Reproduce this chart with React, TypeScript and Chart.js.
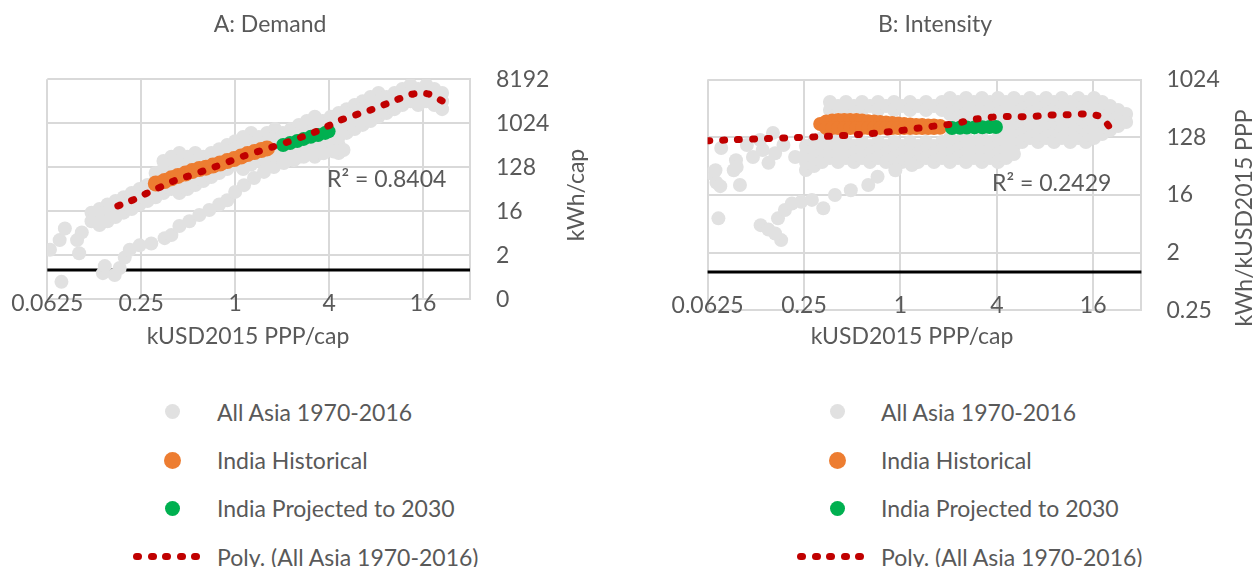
import React, { useEffect, useRef } from "react";
import { Chart, registerables } from "chart.js";

Chart.register(...registerables);

const FONT_FAMILY = "Lato, 'Open Sans', sans-serif";
const FONT_SIZE = 23;
const TEXT_COLOR = "#595959";
const GRID_COLOR = "#d9d9d9";
const GRAY = "#e1e1e1";
const ORANGE = "#ED7D31";
const GREEN = "#00B050";
const RED = "#C00000";

// ---------- axes ----------
const gdpTicks = [0.0625, 0.25, 1, 4, 16];
const gdpTickLabels = ["0.0625", "0.25", "1", "4", "16"];
const gdpMin = 0.0625;
const gdpMax = 32;
const demandTicks = [0.25, 2, 16, 128, 1024, 8192];
const demandTickLabels = ["0", "2", "16", "128", "1024", "8192"];
const intensityTicks = [0.25, 2, 16, 128, 1024];
const intensityTickLabels = ["0.25", "2", "16", "128", "1024"];
const axisCrossValue = 1;

const legendLabels = [
  "All Asia 1970-2016",
  "India Historical",
  "India Projected to 2030",
  "Poly. (All Asia 1970-2016)",
];

// ---------- A: Demand (kUSD2015 PPP/cap -> kWh/cap) ----------
// All Asia: main band, listed as GDP value with the demand values observed at it
const asiaDemandBand: [number, number[]][] = [
  [0.12, [15, 10]],
  [0.135, [17.9, 12.2, 8.4]],
  [0.152, [22, 15, 10]],
  [0.171, [26, 17.9, 12.2]],
  [0.193, [31, 22, 15]],
  [0.217, [38, 26, 17.9]],
  [0.244, [46, 31, 22]],
  [0.274, [55.5, 38, 26]],
  [0.309, [98, 67, 46, 31]],
  [0.347, [173, 118, 81, 55.5, 38]],
  [0.39, [210, 145, 98, 67, 46]],
  [0.439, [252, 173, 118, 81, 55.5, 38]],
  [0.494, [210, 145, 98, 67, 46]],
  [0.555, [252, 173, 118, 81, 55.5]],
  [0.625, [210, 145, 98, 67]],
  [0.703, [252, 173, 118, 81]],
  [0.79, [300, 210, 145, 98]],
  [0.889, [368, 252, 173, 118]],
  [1.0, [440, 300, 210, 145]],
  [1.125, [537, 368, 252, 173, 118]],
  [1.265, [650, 440, 300, 210, 145]],
  [1.42, [537, 368, 252, 173]],
  [1.6, [650, 440, 300, 210, 145]],
  [1.8, [783, 537, 368, 252, 173]],
  [2.02, [650, 440, 300, 210]],
  [2.28, [783, 537, 368, 252]],
  [2.56, [950, 650, 440, 300, 210]],
  [2.88, [1140, 783, 537, 368, 252]],
  [3.24, [1400, 950, 650, 440, 300, 210]],
  [3.64, [1140, 783, 537, 368, 252]],
  [4.1, [1400, 950, 650, 440, 300]],
  [4.61, [1670, 1140, 783, 537, 368, 252]],
  [5.18, [2000, 1400, 950, 650]],
  [5.83, [2430, 1670, 1140, 783]],
  [6.56, [2900, 2000, 1400, 950]],
  [7.37, [3550, 2430, 1670, 1140]],
  [8.29, [4300, 2900, 2000, 1400]],
  [9.33, [3550, 2430, 1670]],
  [10.5, [4300, 2900, 2000]],
  [11.8, [5180, 3550, 2430]],
  [13.3, [6300, 4300, 2900]],
  [14.9, [5180, 3550, 2430]],
  [16.8, [6300, 4300, 2900]],
  [18.9, [5180, 3550, 2430]],
  [21.2, [4300, 2900, 2000]],
];

// All Asia: scattered low-income points and the lower branch
const asiaDemandScatter: [number, number][] = [
  [0.065, 2.6], [0.075, 4.1], [0.081, 7.1], [0.097, 4.1], [0.1, 2.2], [0.104, 5.9], [0.135, 9.6],
  [0.077, 0.57], [0.142, 0.86], [0.146, 1.2], [0.169, 0.79], [0.182, 1.1], [0.196, 1.8], [0.211, 2.6],
  [0.244, 3.2], [0.29, 3.5], [0.353, 4.5], [0.39, 5.2],
  [0.439, 8.0], [0.509, 10], [0.589, 13.4], [0.682, 17], [0.79, 22], [0.89, 27], [1.0, 40], [1.14, 55],
  [1.32, 77], [1.53, 103], [1.77, 130], [2.05, 156], [2.38, 181], [2.75, 210], [3.19, 229], [3.69, 250],
  [4.28, 270], [4.95, 290],
];

const indiaHistDemand: [number, number][] = [
  [0.31, 59.5], [0.353, 67], [0.39, 76], [0.43, 85], [0.48, 95], [0.53, 107], [0.589, 118], [0.65, 126],
  [0.72, 139], [0.8, 153], [0.89, 172], [0.985, 189], [1.09, 212], [1.2, 239], [1.33, 263], [1.47, 290],
  [1.6, 312],
];

const indiaProjDemand: [number, number][] = [
  [2.03, 367], [2.25, 405], [2.5, 445], [2.75, 490], [3.05, 540], [3.4, 590], [3.78, 650], [3.97, 700],
];

const polyDemand: [number, number][] = [
  [0.177, 20.6], [0.221, 27.3], [0.271, 37.5], [0.336, 51.2], [0.418, 70.2], [0.529, 89], [0.666, 116],
  [0.826, 148], [1.034, 196], [1.284, 248], [1.63, 314], [2.05, 398], [2.53, 504], [3.15, 650],
  [3.94, 900], [4.89, 1237], [5.89, 1518], [7.18, 1860], [8.93, 2435], [11.05, 3186], [13.9, 4096],
  [17.3, 4096], [21.3, 2937],
];

// ---------- B: Intensity (kUSD2015 PPP/cap -> kWh/kUSD2015 PPP) ----------
const asiaIntensityBand: [number, number[]][] = [
  [0.257, [93.5, 70, 52.5, 39.4]],
  [0.289, [108, 81, 60.7, 45.5]],
  [0.324, [125, 93.5, 70, 52.5]],
  [0.363, [457, 342, 108, 81, 60.7]],
  [0.408, [395, 125, 93.5, 70, 52.5]],
  [0.457, [457, 342, 108, 81, 60.7]],
  [0.513, [395, 93.5, 70, 52.5]],
  [0.576, [457, 342, 108, 81, 60.7]],
  [0.646, [395, 93.5, 70, 52.5]],
  [0.725, [457, 342, 108, 81, 60.7]],
  [0.813, [395, 93.5, 70, 52.5]],
  [0.912, [457, 342, 108, 81, 60.7]],
  [1.023, [395, 93.5, 70, 52.5]],
  [1.148, [457, 342, 108, 81, 60.7]],
  [1.288, [395, 93.5, 70, 52.5]],
  [1.445, [457, 342, 108, 81, 60.7]],
  [1.621, [395, 93.5, 70, 52.5]],
  [1.819, [457, 342, 108, 81, 60.7]],
  [2.04, [528, 395, 296, 125, 93.5, 70, 52.5]],
  [2.29, [457, 342, 257, 108, 81, 60.7]],
  [2.57, [528, 395, 296, 125, 93.5, 70, 52.5]],
  [2.88, [457, 342, 257, 108, 81, 60.7]],
  [3.23, [528, 395, 296, 125, 93.5, 70, 52.5]],
  [3.63, [457, 342, 257, 108, 81, 60.7]],
  [4.07, [528, 395, 296, 125, 93.5, 70, 52.5]],
  [4.57, [457, 342, 257, 192, 144, 108, 81, 60.7]],
  [5.12, [528, 395, 296, 222, 166, 125, 93.5, 70]],
  [5.75, [457, 342, 257, 192, 144, 108]],
  [6.45, [528, 395, 296, 222, 166, 125]],
  [7.24, [457, 342, 257, 192, 144, 108]],
  [8.12, [528, 395, 296, 222, 166, 125]],
  [9.11, [457, 342, 257, 192, 144, 108]],
  [10.2, [528, 395, 296, 222, 166, 125]],
  [11.5, [457, 342, 257, 192, 144, 108]],
  [12.9, [528, 395, 296, 222, 166, 125]],
  [14.4, [457, 342, 257, 192, 144, 108]],
  [16.2, [528, 395, 296, 222, 166, 125]],
  [18.2, [457, 342, 257, 192, 144]],
  [20.4, [395, 296, 222, 166]],
  [22.9, [342, 257, 192]],
  [25.7, [296, 222]],
];

const asiaIntensityScatter: [number, number][] = [
  [0.076, 87], [0.066, 35], [0.071, 25], [0.094, 56], [0.091, 39], [0.0995, 23], [0.12, 63], [0.138, 81],
  [0.15, 51], [0.165, 72], [0.22, 63], [0.16, 150], [0.186, 97], [0.133, 116], [0.11, 97], [0.07, 39],
  [0.095, 44], [0.075, 22],
  [0.073, 6.9], [0.134, 5.4], [0.15, 4.6], [0.172, 6.9], [0.18, 3.15], [0.19, 9.3], [0.21, 11.8],
  [0.24, 12.5], [0.28, 13.4], [0.33, 9.9], [0.39, 16], [0.49, 19], [0.63, 23], [0.72, 31], [0.93, 39],
  [1.18, 47], [0.165, 4.0],
];

const indiaHistIntensity: [number, number][] = [
  [0.3155, 207], [0.344, 226], [0.375, 234], [0.409, 239], [0.446, 239], [0.486, 239], [0.53, 239],
  [0.576, 234], [0.629, 228], [0.685, 226], [0.747, 222], [0.814, 218], [0.888, 214], [0.968, 210],
  [1.055, 207], [1.15, 203], [1.254, 199], [1.367, 199], [1.49, 196], [1.62, 196], [1.77, 192],
  [0.344, 179], [0.375, 179], [0.409, 179], [0.446, 179], [0.486, 179], [0.53, 179], [0.576, 179],
  [0.629, 179], [0.685, 179], [0.747, 179], [0.814, 179], [0.888, 179], [0.968, 179], [1.055, 179],
  [1.15, 179], [1.254, 179], [1.367, 179], [1.49, 179], [1.62, 179], [1.77, 180],
];

const indiaProjIntensity: [number, number][] = [
  [2.1, 179], [2.35, 180], [2.6, 182], [2.9, 183], [3.25, 184], [3.6, 185], [3.95, 186],
];

const polyIntensity: [number, number][] = [
  [0.0625, 113], [0.107, 119], [0.17, 124], [0.27, 129], [0.432, 136], [0.684, 148], [0.86, 157],
  [1.06, 166], [1.36, 181], [1.69, 194], [2.26, 212], [2.72, 238], [3.28, 254], [4.18, 269], [6.45, 269],
  [8.23, 286], [10.4, 286], [12.9, 296], [15.5, 290], [18, 265], [19.5, 210], [21, 157], [21.7, 134],
];

type PanelSpec = {
  key: string;
  left: number;
  width: number;
  height: number;
  padLeft: number;
  padTop: number;
  yAxisWidth: number;
  xAxisHeight: number;
  yMin: number;
  yMax: number;
  yTicks: number[];
  yTickLabels: string[];
  yTickPad: number;
  asiaBand: [number, number[]][];
  asiaScatter: [number, number][];
  hist: [number, number][];
  histRadius: number;
  proj: [number, number][];
  poly: [number, number][];
  title: string;
  titlePos: [number, number];
  xTitle: string;
  xTitlePos: [number, number];
  yTitle: string;
  yTitlePos: [number, number];
  r2: string;
  r2Pos: [number, number];
};

const panels: PanelSpec[] = [
  {
    key: "A", left: 0, width: 627, height: 350,
    padLeft: 47.3, padTop: 79.3, yAxisWidth: 157, xAxisHeight: 50.7,
    yMin: 0.25, yMax: 8192, yTicks: demandTicks, yTickLabels: demandTickLabels, yTickPad: 26,
    asiaBand: asiaDemandBand, asiaScatter: asiaDemandScatter,
    hist: indiaHistDemand, histRadius: 8, proj: indiaProjDemand, poly: polyDemand,
    title: "A: Demand", titlePos: [270, 25],
    xTitle: "kUSD2015 PPP/cap", xTitlePos: [248, 337],
    yTitle: "kWh/cap", yTitlePos: [577, 195],
    r2: "R\u00B2 = 0.8404", r2Pos: [327, 180],
  },
  {
    key: "B", left: 627, width: 628, height: 350,
    padLeft: 80.6, padTop: 79.6, yAxisWidth: 113.6, xAxisHeight: 39.6,
    yMin: 0.25, yMax: 1024, yTicks: intensityTicks, yTickLabels: intensityTickLabels, yTickPad: 25,
    asiaBand: asiaIntensityBand, asiaScatter: asiaIntensityScatter,
    hist: indiaHistIntensity, histRadius: 7, proj: indiaProjIntensity, poly: polyIntensity,
    title: "B: Intensity", titlePos: [308, 25],
    xTitle: "kUSD2015 PPP/cap", xTitlePos: [285, 337],
    yTitle: "kWh/kUSD2015 PPP", yTitlePos: [618, 218],
    r2: "R\u00B2 = 0.2429", r2Pos: [365, 184],
  },
];

const font = { family: FONT_FAMILY, size: FONT_SIZE };
const labelFor = (ticks: number[], labels: string[], v: number) => {
  const i = ticks.findIndex((t) => Math.abs(t - v) < 1e-9);
  return i >= 0 ? labels[i] : "";
};
const toPts = (arr: [number, number][]) => arr.map(([x, y]) => ({ x, y }));
const bandToPts = (band: [number, number[]][]) =>
  band.flatMap(([x, ys]) => ys.map((y) => ({ x, y })));

const axisCrossPlugin = {
  id: "axisCross",
  beforeDatasetsDraw(chart: any) {
    const { ctx, chartArea, scales } = chart;
    const y = scales.y.getPixelForValue(axisCrossValue);
    ctx.save();
    ctx.strokeStyle = "#000000";
    ctx.lineWidth = 3;
    ctx.beginPath();
    ctx.moveTo(chartArea.left, y);
    ctx.lineTo(chartArea.right, y);
    ctx.stroke();
    ctx.restore();
  },
};

const makeTextPlugin = (spec: PanelSpec) => ({
  id: "panelText" + spec.key,
  afterDraw(chart: any) {
    const ctx = chart.ctx;
    const xs = chart.scales.x;
    const crossY = chart.scales.y.getPixelForValue(axisCrossValue);
    ctx.save();
    ctx.fillStyle = TEXT_COLOR;
    ctx.font = `${FONT_SIZE}px ${FONT_FAMILY}`;
    ctx.textAlign = "center";
    ctx.textBaseline = "middle";
    // x tick labels hang below the crossing axis line
    gdpTicks.forEach((v, i) => {
      ctx.fillText(gdpTickLabels[i], xs.getPixelForValue(v), crossY + 33.5);
    });
    ctx.fillText(spec.title, spec.titlePos[0], spec.titlePos[1]);
    ctx.fillText(spec.xTitle, spec.xTitlePos[0], spec.xTitlePos[1]);
    ctx.save();
    ctx.translate(spec.yTitlePos[0], spec.yTitlePos[1]);
    ctx.rotate(-Math.PI / 2);
    ctx.fillText(spec.yTitle, 0, 0);
    ctx.restore();
    ctx.textAlign = "left";
    ctx.fillText(spec.r2, spec.r2Pos[0], spec.r2Pos[1]);
    ctx.restore();
  },
});

function Panel({ spec }: { spec: PanelSpec }) {
  const ref = useRef<HTMLCanvasElement>(null);
  useEffect(() => {
    if (!ref.current) return;
    const chart = new Chart(ref.current, {
      type: "scatter",
      data: {
        datasets: [
          {
            type: "line",
            label: legendLabels[3],
            data: toPts(spec.poly),
            borderColor: RED,
            borderWidth: 7,
            borderDash: [2, 13],
            borderCapStyle: "round",
            pointRadius: 0,
            tension: 0.4,
            fill: false,
            order: 0,
          } as any,
          {
            label: legendLabels[2],
            data: toPts(spec.proj),
            backgroundColor: GREEN,
            pointRadius: 7,
            borderWidth: 0,
            order: 1,
          },
          {
            label: legendLabels[1],
            data: toPts(spec.hist),
            backgroundColor: ORANGE,
            pointRadius: spec.histRadius,
            borderWidth: 0,
            order: 2,
          },
          {
            label: legendLabels[0],
            data: [...bandToPts(spec.asiaBand), ...toPts(spec.asiaScatter)],
            backgroundColor: GRAY,
            pointRadius: 7,
            borderWidth: 0,
            order: 3,
          },
        ],
      },
      options: {
        responsive: false,
        animation: false,
        events: [],
        layout: { padding: { left: spec.padLeft, top: spec.padTop, right: 0, bottom: 0 } },
        plugins: {
          legend: { display: false },
          tooltip: { enabled: false },
          title: { display: false },
        },
        scales: {
          x: {
            type: "logarithmic",
            position: "bottom",
            min: gdpMin,
            max: gdpMax,
            afterBuildTicks: (s: any) => {
              s.ticks = gdpTicks.map((v) => ({ value: v }));
            },
            afterFit: (s: any) => {
              s.height = spec.xAxisHeight;
            },
            grid: { color: GRID_COLOR, lineWidth: 2, drawTicks: false },
            border: { display: true, color: GRID_COLOR, width: 2 },
            ticks: { display: false, autoSkip: false, maxRotation: 0, minRotation: 0 },
          },
          y: {
            type: "logarithmic",
            position: "right",
            min: spec.yMin,
            max: spec.yMax,
            afterBuildTicks: (s: any) => {
              s.ticks = spec.yTicks.map((v) => ({ value: v }));
            },
            afterFit: (s: any) => {
              s.width = spec.yAxisWidth;
            },
            grid: { color: GRID_COLOR, lineWidth: 2, drawTicks: false },
            border: { display: true, color: GRID_COLOR, width: 2 },
            ticks: {
              padding: spec.yTickPad,
              color: TEXT_COLOR,
              font,
              callback: (v: any) => labelFor(spec.yTicks, spec.yTickLabels, Number(v)),
            },
          },
        },
      } as any,
      plugins: [axisCrossPlugin, makeTextPlugin(spec)],
    });
    return () => chart.destroy();
  }, [spec]);
  return (
    <canvas
      ref={ref}
      width={spec.width}
      height={spec.height}
      style={{ position: "absolute", left: spec.left, top: 0, width: spec.width, height: spec.height }}
    />
  );
}

const legendRowsY = [411.7, 460, 508.3, 556.7];
const legendColumns = [
  { markerX: 172, textX: 217, polyX: 133 },
  { markerX: 837, textX: 881, polyX: 797 },
];

function LegendBlock({ markerX, textX, polyX }: { markerX: number; textX: number; polyX: number }) {
  const markers = [
    { color: GRAY, size: 15 },
    { color: ORANGE, size: 17 },
    { color: GREEN, size: 15 },
  ];
  return (
    <>
      {markers.map((m, i) => (
        <div
          key={"m" + i}
          style={{
            position: "absolute",
            left: markerX - m.size / 2,
            top: legendRowsY[i] - m.size / 2,
            width: m.size,
            height: m.size,
            borderRadius: "50%",
            background: m.color,
          }}
        />
      ))}
      {[0, 1, 2, 3, 4].map((i) => (
        <div
          key={"p" + i}
          style={{
            position: "absolute",
            left: polyX + i * 14.6,
            top: legendRowsY[3] - 3.5,
            width: 9,
            height: 7,
            borderRadius: 4,
            background: RED,
          }}
        />
      ))}
      {legendLabels.map((t, i) => (
        <div
          key={"t" + i}
          style={{
            position: "absolute",
            left: textX,
            top: legendRowsY[i] - 16,
            height: 32,
            lineHeight: "32px",
            fontFamily: FONT_FAMILY,
            fontSize: FONT_SIZE,
            color: TEXT_COLOR,
            whiteSpace: "nowrap",
          }}
        >
          {t}
        </div>
      ))}
    </>
  );
}

export default function App() {
  return (
    <div
      style={{
        position: "absolute",
        left: 0,
        top: 0,
        width: 1255,
        height: 567,
        background: "#ffffff",
        overflow: "hidden",
      }}
    >
      {panels.map((p) => (
        <Panel key={p.key} spec={p} />
      ))}
      {legendColumns.map((c, i) => (
        <LegendBlock key={i} {...c} />
      ))}
    </div>
  );
}
